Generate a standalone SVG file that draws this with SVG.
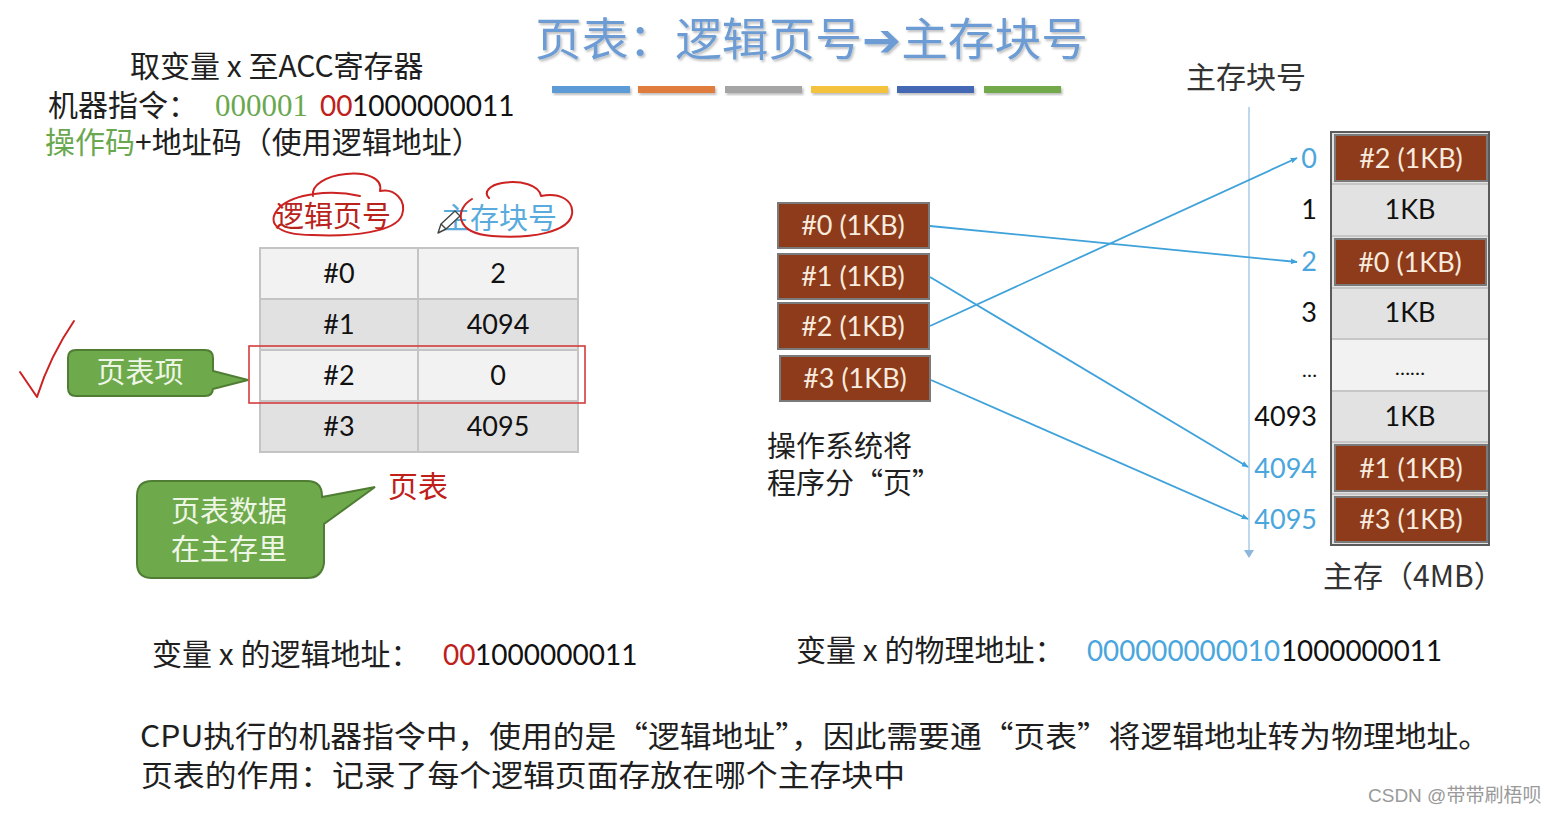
<svg xmlns="http://www.w3.org/2000/svg" width="1554" height="814" viewBox="0 0 1554 814">
<style>
text{font-family:Lato,"Noto Sans CJK SC",sans-serif;}
.cjk{font-family:"Noto Sans CJK SC",sans-serif;font-size:30px;fill:#1f1f1f;}
.num{font-family:Lato,"Noto Sans CJK SC",sans-serif;font-size:28px;}
.serif{font-family:"Liberation Serif",serif;font-size:31px;}
.cell{font-size:27px;fill:#111;text-anchor:middle;}
.page rect{fill:#8e3b1b;stroke:#7a7a7a;stroke-width:2;}
.page text{font-size:27px;fill:#f7ebde;text-anchor:middle;}
.lbl{font-size:27px;text-anchor:end;}
.blue{fill:#4aa6dc;}
.blk{fill:#111;}
.red{fill:#c0201a;}
.green{fill:#6aa84f;}
.conn line{stroke:#3fa2da;stroke-width:1.8;}
.callout path{fill:#6eaa4c;stroke:#4f7d33;stroke-width:2;}
.callout text{fill:#eef6e6;font-family:"Noto Sans CJK SC",sans-serif;font-size:29px;text-anchor:middle;}
.hand{fill:none;stroke:#cc2222;stroke-width:2;stroke-linecap:round;stroke-linejoin:round;}
.title{font-family:"Noto Sans CJK SC",sans-serif;font-size:45px;fill:#6c9cd3;}
.arrow{font-family:"DejaVu Sans",sans-serif;}
.two{font-size:29px;}
</style>
<defs>
<marker id="ah" viewBox="0 0 10 10" refX="9" refY="5" markerWidth="7" markerHeight="7" orient="auto" markerUnits="userSpaceOnUse">
<path d="M0,1 L10,5 L0,9 z" fill="#3fa2da"/>
</marker>
<filter id="sh" x="-5%" y="-20%" width="110%" height="150%">
<feDropShadow dx="1.5" dy="2" stdDeviation="1.2" flood-color="#000" flood-opacity="0.25"/>
</filter>
</defs>
<rect width="1554" height="814" fill="#ffffff"/>

<!-- title -->
<g id="title">
<text class="title" x="535" y="56" filter="url(#sh)" textLength="553" lengthAdjust="spacingAndGlyphs">页表：逻辑页号<tspan class="arrow">➔</tspan>主存块号</text>
<g filter="url(#sh)">
<rect x="552" y="86" width="78" height="7" fill="#5b9bd5"/>
<rect x="638" y="86" width="77" height="7" fill="#e07b3c"/>
<rect x="725" y="86" width="77" height="7" fill="#a5a5a5"/>
<rect x="811" y="86" width="77" height="7" fill="#f4c23c"/>
<rect x="897" y="86" width="77" height="7" fill="#4468b4"/>
<rect x="984" y="86" width="77" height="7" fill="#72aa4c"/>
</g>
</g>

<!-- instruction text -->
<g id="instruction">
<text class="cjk" x="130" y="77">取变量 x 至ACC寄存器</text>
<text class="cjk" x="48" y="116">机器指令：</text>
<text x="215" y="116" class="serif green" textLength="93" lengthAdjust="spacingAndGlyphs">000001</text>
<text x="320" y="116" class="num red">00</text>
<text x="352" y="116" class="num blk">1000000011</text>
<text class="cjk" x="45" y="153"><tspan class="green">操作码</tspan>+地址码（使用逻辑地址）</text>
</g>

<!-- page table -->
<g id="page-table">
<text x="275" y="227" class="cjk" style="font-size:29px;fill:#b8241c">逻辑页号</text>
<text x="441" y="229" class="cjk" style="font-size:29px;fill:#58abdc">主存块号</text>
<rect x="260" y="248" width="318" height="51" fill="#f2f2f2"/>
<rect x="260" y="299" width="318" height="51" fill="#e1e1e1"/>
<rect x="260" y="350" width="318" height="51" fill="#f2f2f2"/>
<rect x="260" y="401" width="318" height="51" fill="#e1e1e1"/>
<g stroke="#c4c4c4" stroke-width="2" fill="none">
<rect x="260" y="248" width="318" height="204"/>
<line x1="418" y1="248" x2="418" y2="452"/>
<line x1="260" y1="299" x2="578" y2="299"/>
<line x1="260" y1="350" x2="578" y2="350"/>
<line x1="260" y1="401" x2="578" y2="401"/>
</g>
<text class="cell" x="339" y="283">#0</text><text class="cell" x="498" y="283">2</text>
<text class="cell" x="339" y="334">#1</text><text class="cell" x="498" y="334">4094</text>
<text class="cell" x="339" y="385">#2</text><text class="cell" x="498" y="385">0</text>
<text class="cell" x="339" y="436">#3</text><text class="cell" x="498" y="436">4095</text>
<rect x="249" y="346" width="336" height="57" fill="none" stroke="#d43c3c" stroke-width="1.6"/>
<text x="388" y="497" class="cjk" style="fill:#c0201a">页表</text>
</g>

<!-- handwritten marks -->
<g id="annotations">
<path class="hand" d="M360,196 C330,189 294,194 280,207 C265,222 276,235 312,235 C352,237 396,232 402,215 C407,200 394,188 380,191 C383,178 366,172 346,174 C326,176 311,185 313,196"/>
<path class="hand" d="M472,199 C455,209 454,233 492,236 C532,239 569,232 572,214 C574,200 559,192 541,196 C539,185 521,180 502,183 C490,185 483,192 489,198"/>
<path class="hand" d="M20,372 L37,397 Q50,356 74,321"/>
<g fill="#ffffff" stroke="#444" stroke-width="1.4" stroke-linejoin="round">
<path d="M438,233 L441,224 L455,211 L460,216 L446,229 Z"/>
<line x1="441" y1="224" x2="446" y2="229"/>
</g>
</g>

<!-- callouts -->
<g id="callout-entry" class="callout">
<path d="M76,350 H205 Q213,350 213,358 V371 L248,380 L213,389 V388 Q213,396 205,396 H76 Q68,396 68,388 V358 Q68,350 76,350 Z"/>
<text x="140" y="383">页表项</text>
</g>
<g id="callout-data" class="callout">
<path d="M152,481 H307 Q322,481 322,496 V497 L375,487 L324,524 V563 Q322,578 307,578 H152 Q137,578 137,563 V496 Q137,481 152,481 Z"/>
<text x="229" y="522">页表数据</text>
<text x="229" y="560">在主存里</text>
</g>

<!-- program pages -->
<g id="pages" class="page">
<g id="page0"><rect x="778" y="203" width="151" height="45"/><text x="853" y="235">#0 (1KB)</text></g>
<g id="page1"><rect x="778" y="254" width="151" height="45"/><text x="853" y="286">#1 (1KB)</text></g>
<g id="page2"><rect x="778" y="303" width="151" height="46"/><text x="853" y="336">#2 (1KB)</text></g>
<g id="page3"><rect x="780" y="356" width="150" height="45"/><text x="855" y="388">#3 (1KB)</text></g>
</g>
<text class="cjk two" x="767" y="457">操作系统将</text>
<text class="cjk two" x="767" y="494">程序分“页”</text>

<!-- axis -->
<g id="axis">
<text class="cjk" x="1186" y="88" style="fill:#333">主存块号</text>
<line x1="1249" y1="107" x2="1249" y2="551" stroke="#a9cde9" stroke-width="1.5"/>
<path d="M1244,550 L1254,550 L1249,558 Z" fill="#8db7dd"/>
<text class="lbl blue" x="1317" y="168">0</text>
<text class="lbl blk" x="1317" y="219">1</text>
<text class="lbl blue" x="1317" y="271">2</text>
<text class="lbl blk" x="1317" y="322">3</text>
<text class="lbl blk" x="1317" y="377" style="font-size:20px">…</text>
<text class="lbl blk" x="1317" y="426">4093</text>
<text class="lbl blue" x="1317" y="478">4094</text>
<text class="lbl blue" x="1317" y="529">4095</text>
</g>

<!-- main memory -->
<g id="memory">
<rect x="1331" y="132" width="158" height="413" fill="#e2e2e2"/>
<rect x="1332" y="339" width="156" height="52" fill="#f2f2f2"/>
<g stroke="#c6c6c6" stroke-width="2">
<line x1="1331" y1="184" x2="1489" y2="184"/>
<line x1="1331" y1="236" x2="1489" y2="236"/>
<line x1="1331" y1="288" x2="1489" y2="288"/>
<line x1="1331" y1="339" x2="1489" y2="339"/>
<line x1="1331" y1="391" x2="1489" y2="391"/>
<line x1="1331" y1="442" x2="1489" y2="442"/>
<line x1="1331" y1="494" x2="1489" y2="494"/>
</g>
<g class="page">
<g id="mem0"><rect x="1335" y="135" width="152" height="46"/><text x="1411" y="168">#2 (1KB)</text></g>
<g id="mem2"><rect x="1335" y="239" width="151" height="46"/><text x="1410" y="272">#0 (1KB)</text></g>
<g id="mem4094"><rect x="1335" y="445" width="152" height="46"/><text x="1411" y="478">#1 (1KB)</text></g>
<g id="mem4095"><rect x="1335" y="497" width="152" height="45"/><text x="1411" y="529">#3 (1KB)</text></g>
</g>
<text class="cell" x="1410" y="219">1KB</text>
<text class="cell" x="1410" y="322">1KB</text>
<text class="cell" x="1410" y="375" style="font-size:20px">……</text>
<text class="cell" x="1410" y="426">1KB</text>
<rect x="1331" y="132" width="158" height="413" fill="none" stroke="#5a5a5a" stroke-width="2"/>
<text class="cjk" x="1323" y="587" style="fill:#333">主存（4MB）</text>
</g>

<!-- connectors -->
<g id="connectors" class="conn">
<line x1="930" y1="226" x2="1297" y2="262" marker-end="url(#ah)"/>
<line x1="930" y1="277" x2="1248" y2="467" marker-end="url(#ah)"/>
<line x1="930" y1="326" x2="1297" y2="158" marker-end="url(#ah)"/>
<line x1="931" y1="380" x2="1248" y2="519" marker-end="url(#ah)"/>
</g>

<!-- addresses -->
<g id="addresses">
<text class="cjk" x="152" y="665">变量 x 的逻辑地址：</text>
<text x="443" y="665" class="num red">00</text>
<text x="475" y="665" class="num blk">1000000011</text>
<text class="cjk" x="796" y="661">变量 x 的物理地址：</text>
<text x="1087" y="661" class="num blue" textLength="193" lengthAdjust="spacingAndGlyphs">000000000010</text>
<text x="1281" y="661" class="num blk" textLength="161" lengthAdjust="spacingAndGlyphs">1000000011</text>
</g>

<!-- explanation -->
<g id="explanation">
<text class="cjk" x="140" y="747" textLength="1350" lengthAdjust="spacingAndGlyphs">CPU执行的机器指令中，使用的是“逻辑地址”，因此需要通“页表”将逻辑地址转为物理地址。</text>
<text class="cjk" x="141" y="786" textLength="764" lengthAdjust="spacingAndGlyphs">页表的作用：记录了每个逻辑页面存放在哪个主存块中</text>
</g>

<text x="1368" y="802" style="font-family:'Liberation Sans','Noto Sans CJK SC',sans-serif;font-size:19px;fill:#9a9a9a">CSDN @带带刷梧呗</text>
</svg>
